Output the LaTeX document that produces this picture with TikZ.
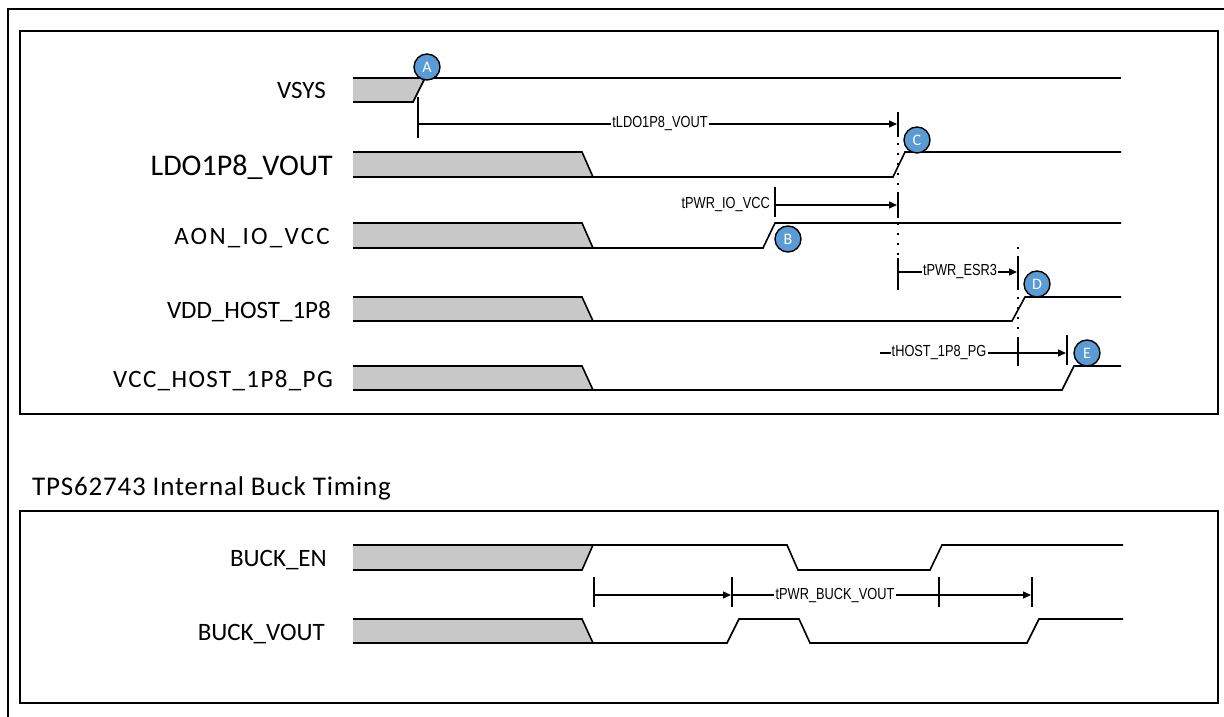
\documentclass[tikz,border=0pt]{standalone}
\usepackage{fontspec}
\setmainfont{Carlito}
\newfontfamily\narrowsans[FakeStretch=0.8]{Liberation Sans}
\usepackage{tikz}
\usetikzlibrary{positioning, arrows.meta}
\definecolor{padgray}{HTML}{C8C8C8}
\definecolor{badgeblue}{HTML}{5B9BD5}

\begin{document}
\begin{tikzpicture}[x=1pt, y=-1pt,
    sig/.style={line width=1.6pt},
    pad/.style={fill=padgray, draw=none},
    sname/.style={anchor=base east, inner sep=0pt, font=\fontsize{25}{28}\selectfont},
    tick/.style={line width=1.6pt},
    tmark/.style={line width=1.4pt},
    tarrow/.style={line width=1.4pt, -{Triangle[length=8pt, width=7pt]}},
    dotv/.style={line width=2pt, dash pattern=on 2pt off 8pt},
    tname/.style={inner sep=1pt, font=\narrowsans\fontsize{16}{18}\selectfont},
    badge/.style={circle, draw=black, line width=1.4pt, fill=badgeblue, minimum size=26pt,
                  inner sep=0pt, text=white, font=\fontsize{16}{17}\selectfont}]
  \useasboundingbox (0,0) rectangle (1224,717);

  % frames
  \draw[line width=2.5pt] (8,717) -- (8,9) -- (1224,9);
  \draw[line width=2pt] (20,31) rectangle (1218,414);
  \draw[line width=2pt] (20,511) rectangle (1218,703);
  \node[anchor=base west, inner sep=0pt, font=\fontsize{27}{30}\selectfont\addfontfeature{LetterSpace=3}]
    (title) at (32,495) {TPS62743 Internal Buck Timing};

  % signal names
  \node[sname] (vsys) at (326,99) {VSYS};
  \node[sname, font=\fontsize{30}{32}\selectfont] (ldo) at (333,175) {LDO1P8\_VOUT};
  \node[sname, font=\fontsize{25}{28}\selectfont\addfontfeature{LetterSpace=9}] (aon) at (330,244) {AON\_IO\_VCC};
  \node[sname] (vdd) at (331,318) {VDD\_HOST\_1P8};
  \node[sname, font=\fontsize{25}{28}\selectfont\addfontfeature{LetterSpace=5.5}] (pg) at (333,387) {VCC\_HOST\_1P8\_PG};
  \node[sname] (ben) at (327,566) {BUCK\_EN};
  \node[sname] (bvout) at (325,640) {BUCK\_VOUT};

  % VSYS
  \fill[pad] (353,78) -- (425,78) -- (413,102) -- (353,102) -- cycle;
  \draw[sig] (353,102) -- (413,102) -- (425,78);
  \draw[sig] (353,78) -- (1121,78);

  % LDO1P8_VOUT, AON_IO_VCC, VDD_HOST_1P8, VCC_HOST_1P8_PG
  \foreach \h/\l/\r/\s in {152/177/893/905, 223/248/763/775, 297/321/1012/1025, 366/390/1062/1074} {
    \fill[pad] (353,\h) -- (582,\h) -- (593,\l) -- (353,\l) -- cycle;
    \draw[sig] (353,\h) -- (582,\h) -- (593,\l) -- (\r,\l) -- (\s,\h) -- (1121,\h);
    \draw[sig] (353,\l) -- (593,\l);
  }

  % BUCK_EN
  \fill[pad] (353,545) -- (593,545) -- (582,570) -- (353,570) -- cycle;
  \draw[sig] (353,570) -- (582,570) -- (593,545);
  \draw[sig] (353,545) -- (787,545) -- (798,570) -- (930,570) -- (942,545) -- (1123,545);

  % BUCK_VOUT
  \fill[pad] (353,619) -- (582,619) -- (593,643) -- (353,643) -- cycle;
  \draw[sig] (353,619) -- (582,619) -- (593,643) -- (727,643) -- (739,619) -- (799,619)
    -- (810,643) -- (1027,643) -- (1039,619) -- (1123,619);
  \draw[sig] (353,643) -- (593,643);

  % reference lines
  \draw[dotv] (898,113) -- (898,290);
  \draw[dotv] (1018,247) -- (1018,366);
  \draw[tick] (418,97) -- (418,138);
  \draw[tick] (898,112) -- (898,137);
  \draw[tick] (775,187) -- (775,217);
  \draw[tick] (898,192) -- (898,218);
  \draw[tick] (898,258) -- (898,290);
  \draw[tick] (1018,256) -- (1018,290);
  \draw[tick] (1018,338) -- (1018,366);
  \draw[tick] (1067,335) -- (1067,365);

  % tLDO1P8_VOUT
  \coordinate (ldoS) at (418,124);
  \coordinate (ldoE) at (897,124);
  \node[tname, fill=white] (tldo) at (660,124) {tLDO1P8\_VOUT};
  \draw[tmark] (ldoS) -- (tldo);
  \draw[tarrow] (tldo) -- (ldoE);

  % tPWR_IO_VCC
  \coordinate (ioS) at (775,205);
  \coordinate (ioE) at (897,205);
  \node[tname, anchor=east] (tio) at (771,205) {tPWR\_IO\_VCC};
  \draw[tarrow] (ioS) -- (ioE);

  % tPWR_ESR3
  \coordinate (esrS) at (898,272);
  \coordinate (esrE) at (1017,272);
  \node[tname, fill=white] (tesr) at (960,272) {tPWR\_ESR3};
  \draw[tmark] (esrS) -- (tesr);
  \draw[tarrow] (tesr) -- (esrE);

  % tHOST_1P8_PG
  \coordinate (hostS) at (880,353);
  \coordinate (hostE) at (1066,353);
  \node[tname, fill=white] (thost) at (939,353) {tHOST\_1P8\_PG};
  \draw[tmark] (hostS) -- (thost);
  \draw[tarrow] (thost) -- (hostE);

  % tPWR_BUCK_VOUT
  \foreach \x in {594, 732, 939, 1032}
    \draw[tick] (\x,577) -- (\x,607);
  \coordinate (bk1) at (594,595);
  \coordinate (bk2) at (731,595);
  \coordinate (bk3) at (939,595);
  \coordinate (bk4) at (1031,595);
  \node[tname, fill=white] (tbuck) at (835,595) {tPWR\_BUCK\_VOUT};
  \draw[tarrow] (bk1) -- (bk2);
  \draw[tmark] (bk2) -- (tbuck);
  \draw[tmark] (tbuck) -- (bk3);
  \draw[tarrow] (bk3) -- (bk4);

  % events
  \node[badge] (evA) at (427,67) {A};
  \node[badge] (evB) at (788,239) {B};
  \node[badge] (evC) at (917,140) {C};
  \node[badge] (evD) at (1037,284) {D};
  \node[badge] (evE) at (1087,353) {E};
\end{tikzpicture}
\end{document}
